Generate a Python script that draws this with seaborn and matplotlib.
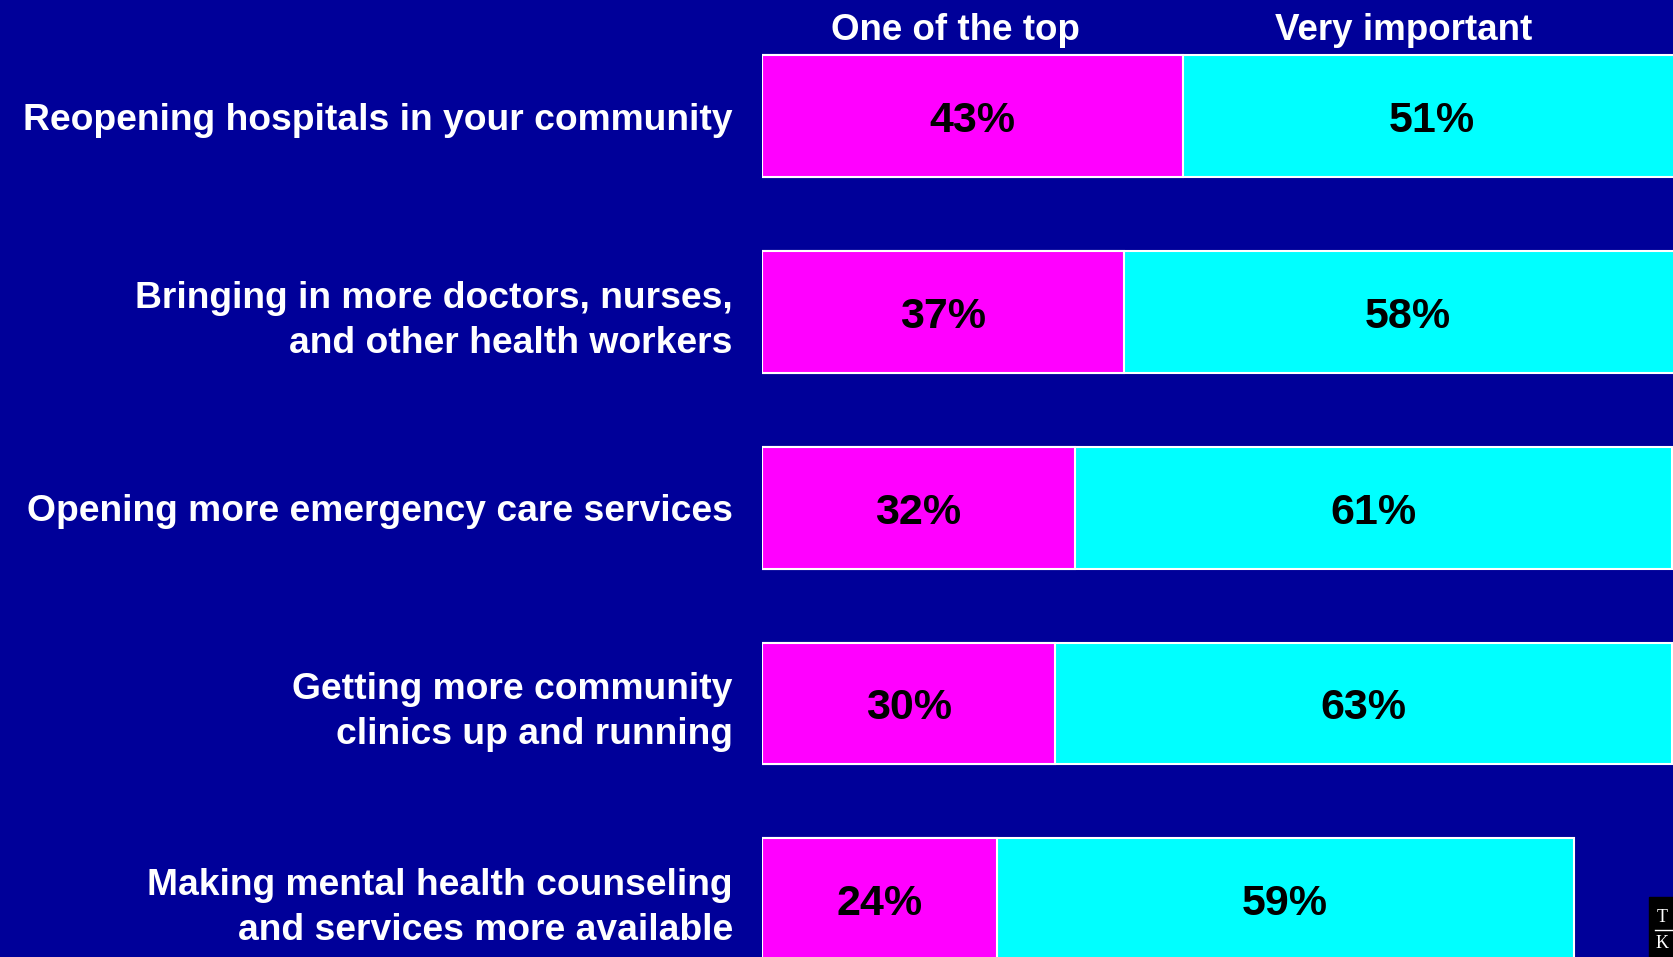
import matplotlib.pyplot as plt
import seaborn as sns
import pandas as pd
from matplotlib.patches import Rectangle
from matplotlib.lines import Line2D

# ── COLOURS ───────────────────────────────────────────────────
BG      = '#000099'
MAGENTA = '#FF00FF'
CYAN    = '#00FFFF'

# ── DATA ──────────────────────────────────────────────────────
items = [
    'Reopening hospitals in your community',
    'Bringing in more doctors, nurses,\nand other health workers',
    'Opening more emergency care services',
    'Getting more community\nclinics up and running',
    'Making mental health counseling\nand services more available',
]
top_priority   = [43, 37, 32, 30, 24]
very_important = [51, 58, 61, 63, 59]
headers        = ['One of the top', 'Very important']

df = pd.DataFrame({'item': items, 'top': top_priority, 'very': very_important})
df['total'] = df['top'] + df['very']

plt.rcParams['font.family'] = ['Liberation Sans', 'DejaVu Sans']

# ── PLOT ──────────────────────────────────────────────────────
fig = plt.figure(figsize=(16.73, 9.57), dpi=100, facecolor=BG)
ax = fig.add_axes([762 / 1673, 0, 1 - 762 / 1673, 1])
ax.set_facecolor(BG)

# cyan = full stack, magenta drawn on top of it
sns.barplot(data=df, x='total', y='item', color=CYAN, saturation=1,
            width=0.622, edgecolor='white', linewidth=1.5,
            errorbar=None, ax=ax)
sns.barplot(data=df, x='top', y='item', color=MAGENTA, saturation=1,
            width=0.622, edgecolor='white', linewidth=1.5,
            errorbar=None, ax=ax)

# value labels in the middle of each segment
for i, (t, v) in enumerate(zip(top_priority, very_important)):
    ax.text(t / 2, i + 0.025, f'{t}%', ha='center', va='center',
            fontsize=31, fontweight='bold', color='black')
    ax.text(t + v / 2, i + 0.025, f'{v}%', ha='center', va='center',
            fontsize=31, fontweight='bold', color='black')

ax.set_xlim(0, 93.15)
ax.set_ylim(4.296, -0.594)
ax.set_xlabel('')
ax.set_ylabel('')
ax.set_xticks([])
for s in ax.spines.values():
    s.set_visible(False)
ax.tick_params(axis='y', length=0, pad=21, labelsize=26.8, labelcolor='white')
for lbl in ax.get_yticklabels():
    lbl.set_fontweight('bold')
    lbl.set_linespacing(1.36)

# column headers
fig.text(955 / 1673, 1 - 30 / 957, headers[0], ha='center', va='center',
         fontsize=26.5, fontweight='bold', color='white')
fig.text(1404 / 1673, 1 - 30 / 957, headers[1], ha='center', va='center',
         fontsize=26.5, fontweight='bold', color='white')

# corner logo fragment
fig.add_artist(Rectangle((1649 / 1673, 0), 24 / 1673, 60 / 957,
                         transform=fig.transFigure, color='black', zorder=5))
fig.text(1662 / 1673, 1 - 917 / 957, 'T', ha='center', va='center',
         fontsize=13, color='white', family='Liberation Serif', zorder=6)
fig.add_artist(Line2D([1655 / 1673, 1673 / 1673], [1 - 930 / 957] * 2,
                      transform=fig.transFigure, color='white', lw=1, zorder=6))
fig.text(1662 / 1673, 1 - 944 / 957, 'K', ha='center', va='center',
         fontsize=13, color='white', family='Liberation Serif', zorder=6)

fig.savefig('out.png', dpi=100, facecolor=BG)
